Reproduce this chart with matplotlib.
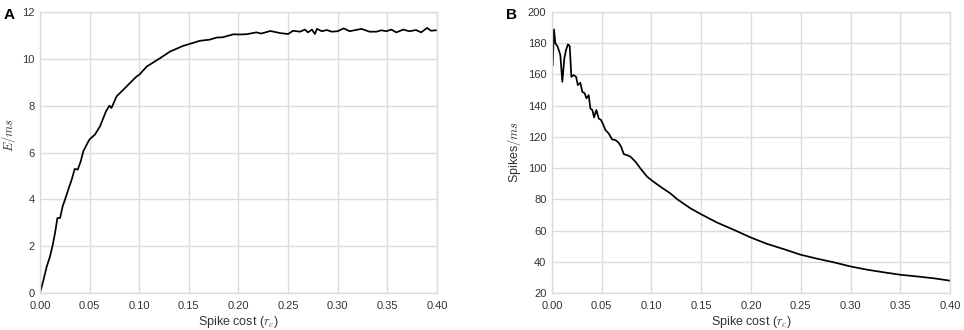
import matplotlib
matplotlib.use('Agg')
import matplotlib.pyplot as plt

plt.rcParams['font.family'] = ['Liberation Sans', 'DejaVu Sans']
plt.rcParams['mathtext.fontset'] = 'cm'

# Panel A: energy per ms vs spike cost
cost_a = [0.000, 0.0034, 0.0067, 0.010, 0.0128, 0.0151, 0.0175, 0.0202, 0.0228,
          0.0252, 0.0285, 0.032, 0.035, 0.038, 0.041, 0.0437, 0.0497, 0.0554,
          0.0605, 0.0665, 0.0699, 0.072, 0.0772, 0.0856, 0.094, 0.0974, 0.100,
          0.1075, 0.121, 0.131, 0.144, 0.161, 0.171, 0.178, 0.184, 0.195, 0.200,
          0.208, 0.218, 0.223, 0.232, 0.242, 0.250, 0.255, 0.262, 0.267, 0.270,
          0.274, 0.277, 0.279, 0.284, 0.289, 0.294, 0.300, 0.306, 0.312, 0.324,
          0.332, 0.339, 0.344, 0.349, 0.354, 0.359, 0.366, 0.372, 0.379, 0.384,
          0.390, 0.394, 0.399]
energy = [0.00, 0.54, 1.12, 1.55, 2.05, 2.55, 3.20, 3.20, 3.70,
          3.99, 4.42, 4.85, 5.30, 5.27, 5.62, 6.06, 6.55, 6.77,
          7.12, 7.76, 8.00, 7.90, 8.40, 8.75, 9.11, 9.25, 9.32,
          9.67, 10.03, 10.31, 10.55, 10.77, 10.82, 10.91, 10.92, 11.05, 11.04,
          11.05, 11.13, 11.08, 11.19, 11.10, 11.06, 11.20, 11.16, 11.25, 11.13,
          11.25, 11.06, 11.28, 11.18, 11.23, 11.16, 11.18, 11.30, 11.18, 11.28,
          11.16, 11.16, 11.22, 11.18, 11.25, 11.13, 11.25, 11.18, 11.23, 11.13,
          11.32, 11.20, 11.22]

# Panel B: spikes per ms vs spike cost
cost_b = [0.0007, 0.002, 0.0034, 0.0057, 0.0084, 0.0104, 0.0124, 0.0141, 0.016,
          0.0178, 0.0195, 0.0218, 0.0242, 0.026, 0.0285, 0.0305, 0.0329, 0.0346,
          0.0369, 0.0386, 0.0406, 0.0423, 0.0446, 0.047, 0.0493, 0.0513, 0.0537,
          0.057, 0.0604, 0.0638, 0.0671, 0.0695, 0.0721, 0.0755, 0.0789, 0.0839,
          0.0889, 0.0956, 0.1007, 0.109, 0.119, 0.126, 0.139, 0.150, 0.166,
          0.183, 0.200, 0.216, 0.233, 0.250, 0.267, 0.2836, 0.300, 0.317,
          0.334, 0.350, 0.367, 0.384, 0.400]
spikes = [166, 188.9, 180, 177.8, 172.4, 155.3, 170.3, 175.6, 179.3,
          178.2, 158.5, 159.6, 158.5, 153.2, 154.7, 148.9, 147.9, 144.7,
          146.8, 138.2, 137.2, 132.5, 137.2, 131.8, 130.8, 128.2, 124.4,
          122.2, 118.4, 118.0, 116.2, 113.7, 109.0, 108.3, 107.3, 104.1,
          99.8, 94.5, 91.9, 88.1, 83.8, 80.0, 74.3, 70.4, 65.1,
          60.4, 55.5, 51.5, 48.1, 44.5, 41.9, 39.6, 37.0, 34.9,
          33.2, 31.7, 30.6, 29.4, 27.9]

xticks = [0.00, 0.05, 0.10, 0.15, 0.20, 0.25, 0.30, 0.35, 0.40]

fig = plt.figure(figsize=(9.64, 3.30), dpi=100)
ax_a = fig.add_axes([0.0415, 0.1121, 0.4118, 0.8515])
ax_b = fig.add_axes([0.5726, 0.1121, 0.4129, 0.8515])

grid_col = '#dcdcdc'
for ax in (ax_a, ax_b):
    ax.set_xlim(0, 0.40)
    ax.set_xticks(xticks)
    ax.set_xticklabels(['%.2f' % t for t in xticks])
    ax.grid(True, color=grid_col, linewidth=1.0)
    ax.set_axisbelow(True)
    for s in ax.spines.values():
        s.set_color(grid_col)
        s.set_linewidth(1.0)
    ax.tick_params(length=0, labelsize=8, colors='#333333')
    ax.tick_params(axis='y', pad=4)
    ax.tick_params(axis='x', pad=6)
    ax.set_xlabel(r'Spike cost ($r_c$)', fontsize=9, color='#333333')
    ax.xaxis.set_label_coords(0.5, -0.073)

ax_a.plot(cost_a, energy, color='black', linewidth=1.25)
ax_a.set_ylim(0, 12)
ax_a.set_yticks([0, 2, 4, 6, 8, 10, 12])
ax_a.set_ylabel(r'$E/ms$', fontsize=9, color='#333333')
ax_a.yaxis.set_label_coords(-0.055, 0.56)

ax_b.plot(cost_b, spikes, color='black', linewidth=1.25)
ax_b.set_ylim(20, 200)
ax_b.set_yticks(range(20, 201, 20))
ax_b.set_ylabel(r'Spikes$/ms$', fontsize=9, color='#333333')
ax_b.yaxis.set_label_coords(-0.074, 0.5)

fig.text(0.004, 0.975, 'A', fontsize=11, fontweight='bold', va='top')
fig.text(0.525, 0.975, 'B', fontsize=11, fontweight='bold', va='top')

fig.savefig('out.png', dpi=100)
